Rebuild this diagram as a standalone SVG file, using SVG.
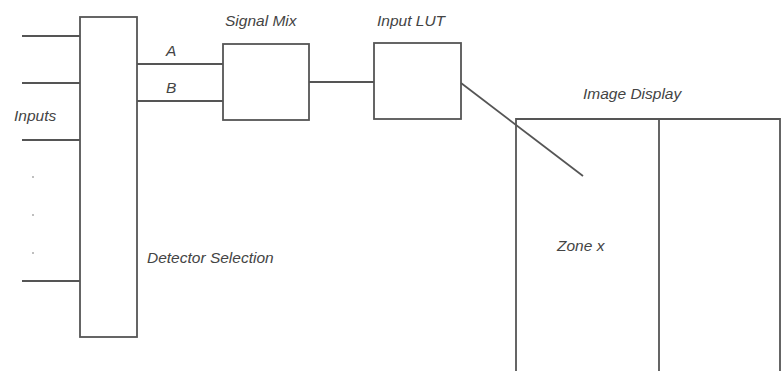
<svg xmlns="http://www.w3.org/2000/svg" width="781" height="371" viewBox="0 0 781 371">
<style>
.s{fill:none;stroke:#555;stroke-width:1.8}
.t{font-family:"Liberation Sans",Arial,sans-serif;font-style:italic;font-size:15.5px;fill:#444}
.d{fill:#aaa}
</style>
<rect width="781" height="371" fill="#fff"/>
<g id="connectors">
<line class="s" x1="22" y1="36" x2="80" y2="36"/>
<line class="s" x1="22" y1="83" x2="80" y2="83"/>
<line class="s" x1="22" y1="140" x2="80" y2="140"/>
<line class="s" x1="22" y1="281" x2="80" y2="281"/>
<line class="s" x1="137" y1="64" x2="223" y2="64"/>
<line class="s" x1="137" y1="101" x2="223" y2="101"/>
<line class="s" x1="309" y1="82" x2="374" y2="82"/>
<line class="s" x1="461" y1="83" x2="583" y2="176"/>
</g>
<g id="inputs">
<text class="t" x="14" y="121">Inputs</text>
<circle class="d" cx="33" cy="177" r="1"/>
<circle class="d" cx="33" cy="215" r="1"/>
<circle class="d" cx="33" cy="253" r="1"/>
</g>
<g id="detector-selection">
<rect class="s" x="80" y="17" width="57" height="320"/>
<text class="t" x="147" y="263">Detector Selection</text>
</g>
<g id="labels-ab">
<text class="t" x="166" y="56">A</text>
<text class="t" x="166" y="93">B</text>
</g>
<g id="signal-mix">
<rect class="s" x="223" y="44" width="86" height="76"/>
<text class="t" x="225" y="26">Signal Mix</text>
</g>
<g id="input-lut">
<rect class="s" x="374" y="43" width="87" height="76"/>
<text class="t" x="377" y="26">Input LUT</text>
</g>
<g id="image-display">
<polyline class="s" points="516,375 516,119 780,119 780,375"/>
<line class="s" x1="659" y1="119" x2="659" y2="375"/>
<text class="t" x="583" y="99">Image Display</text>
<text class="t" x="557" y="251">Zone x</text>
</g>
</svg>
